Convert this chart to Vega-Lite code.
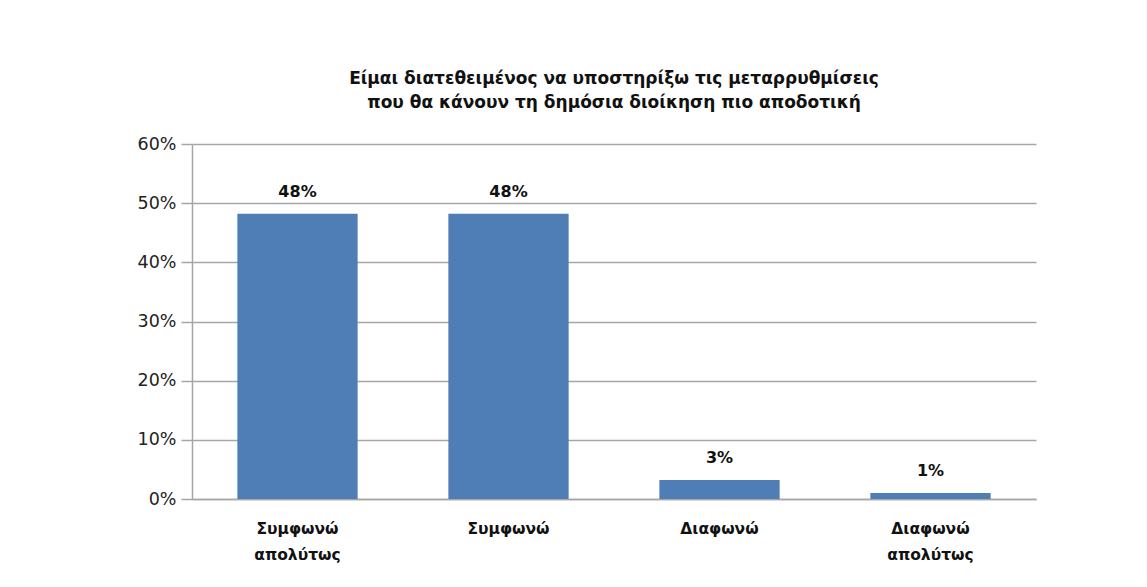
{
  "$schema": "https://vega.github.io/schema/vega-lite/v6.json",
  "width": 844,
  "height": 355,
  "autosize": {"type": "none"},
  "padding": {"left": 192, "top": 144, "right": 111, "bottom": 88},
  "background": "white",
  "title": {
    "text": ["Είμαι διατεθειμένος να υποστηρίξω τις μεταρρυθμίσεις", "που θα κάνουν τη δημόσια διοίκηση πιο αποδοτική"],
    "font": "DejaVu Sans",
    "fontSize": 17,
    "fontWeight": "bold",
    "color": "#111111",
    "lineHeight": 24,
    "anchor": "middle",
    "offset": 23
  },
  "data": {
    "values": [
      {"cat": "Συμφωνώ|απολύτως", "value": 0.482},
      {"cat": "Συμφωνώ", "value": 0.482},
      {"cat": "Διαφωνώ", "value": 0.032},
      {"cat": "Διαφωνώ|απολύτως", "value": 0.01}
    ]
  },
  "config": {"view": {"stroke": null}},
  "encoding": {
    "x": {
      "field": "cat",
      "type": "nominal",
      "sort": null,
      "scale": {"paddingInner": 0.43, "paddingOuter": 0.215},
      "axis": {
        "title": null,
        "labelAngle": 0,
        "labelExpr": "split(datum.label, '|')",
        "labelFont": "DejaVu Sans",
        "labelFontSize": 15.5,
        "labelFontWeight": "bold",
        "labelColor": "#111111",
        "labelLineHeight": 26,
        "labelPadding": 22,
        "ticks": false,
        "domainColor": "#A6A6A6",
        "domainWidth": 1.5
      }
    },
    "y": {
      "field": "value",
      "type": "quantitative",
      "scale": {"domain": [0, 0.6]},
      "axis": {
        "title": null,
        "format": ".0%",
        "values": [0, 0.1, 0.2, 0.3, 0.4, 0.5, 0.6],
        "labelOverlap": false,
        "labelFont": "DejaVu Sans",
        "labelFontSize": 17.5,
        "labelColor": "#222222",
        "labelPadding": 5,
        "tickSize": 11,
        "tickColor": "#A6A6A6",
        "tickWidth": 1.5,
        "domainColor": "#A6A6A6",
        "domainWidth": 1.5,
        "gridColor": "#A6A6A6",
        "gridWidth": 1.5
      }
    }
  },
  "layer": [
    {"mark": {"type": "bar", "color": "#4F7EB7"}},
    {
      "mark": {"type": "text", "dy": -22, "font": "DejaVu Sans", "fontSize": 16, "fontWeight": "bold", "color": "#111111"},
      "encoding": {"text": {"field": "value", "type": "quantitative", "format": ".0%"}}
    }
  ]
}
